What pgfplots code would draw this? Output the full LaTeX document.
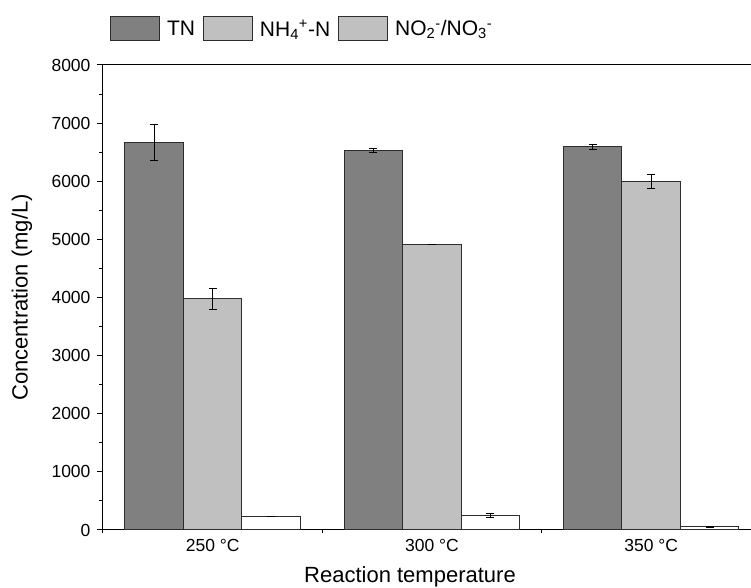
\documentclass[border=0pt]{standalone}
\usepackage{fontspec}
\setmainfont{Liberation Sans}
\usepackage{pgfplots}
\pgfplotsset{compat=1.18}
\usetikzlibrary{calc}

\definecolor{tngray}{RGB}{128,128,128}
\definecolor{nhgray}{RGB}{192,192,192}
\definecolor{edgegray}{RGB}{45,45,45}

\pgfplotsset{
  swatch/.style={
    legend image code/.code={\draw[##1] (0pt,-11.6pt) rectangle (49pt,12.4pt);}
  },
  errstyle/.style={
    error bars/.cd, y dir=both, y explicit,
    error bar style={black, line width=1pt},
    error mark options={rotate=90, black, line width=1pt, mark size=4pt},
    /pgfplots/.cd
  }
}

\begin{document}
\begin{tikzpicture}
\begin{axis}[
  scale only axis, width=648pt, height=465pt,
  xmin=0.5, xmax=3.455, ymin=0, ymax=8000,
  axis x line*=bottom, axis y line*=left,
  axis line style={line width=1pt, black},
  ybar=0pt, bar width=58.5pt,
  xtick={1,2,3}, xticklabels={250 °C, 300 °C, 350 °C},
  minor xtick={0.5,1.5,2.5},
  major x tick style={draw=none},
  ytick={0,1000,...,8000}, minor ytick={500,1500,...,7500},
  tick align=outside, major tick length=6pt, minor tick length=3.5pt,
  tick style={line width=1pt, black},
  /pgf/number format/assume math mode=true,
  /pgf/number format/1000 sep={},
  tick label style={font=\fontsize{17.5}{20}\selectfont},
  yticklabel style={xshift=-3pt},
  xlabel={Reaction temperature},
  ylabel={Concentration (mg/L)},
  label style={font=\fontsize{22}{26}\selectfont},
  xlabel style={at={(axis description cs:0,0)}, anchor=base, xshift=307pt, yshift=-53pt},
  ylabel style={at={(axis description cs:0,0.5)}, anchor=center, yshift=81pt},
  legend columns=3,
  legend style={at={([xshift=7pt,yshift=49pt]axis description cs:0,1)}, anchor=north west,
    draw=none, fill=none, inner sep=0pt, outer sep=0pt,
    font=\fontsize{21}{24}\selectfont,
    nodes={inner sep=0pt},
    /tikz/every odd column/.style={column sep=7pt},
    /tikz/every even column/.style={column sep=8pt}},
  clip=false,
]
% total nitrogen
\addplot[fill=tngray, draw=edgegray, line width=1pt, swatch, errstyle]
  coordinates {(1,6663) +- (0,305) (2,6530) +- (0,40) (3,6595) +- (0,45)};
% ammonium nitrogen
\addplot[fill=nhgray, draw=edgegray, line width=1pt, swatch, errstyle]
  coordinates {(1,3975) +- (0,175) (2,4920) +- (0,0) (3,5990) +- (0,120)};
% nitrite / nitrate (legend swatch drawn in light grey)
\addplot[fill=white, draw=edgegray, line width=1pt,
  legend image code/.code={\draw[fill=nhgray, draw=edgegray, line width=1pt] (0pt,-11.6pt) rectangle (49pt,12.4pt);},
  errstyle]
  coordinates {(1,230) +- (0,0) (2,246) +- (0,35) (3,57) +- (0,10)};
\legend{TN, NH\textsubscript{4}\textsuperscript{+}-N, NO\textsubscript{2}\textsuperscript{-}/NO\textsubscript{3}\textsuperscript{-}}
% top frame line
\draw[line width=1pt, black] (rel axis cs:0,1) -- (rel axis cs:1,1);
\end{axis}
\pgfresetboundingbox
\path ($(current axis.south west)+(-103pt,-58pt)$) rectangle ($(current axis.north east)+(0pt,65pt)$);
\end{tikzpicture}
\end{document}
